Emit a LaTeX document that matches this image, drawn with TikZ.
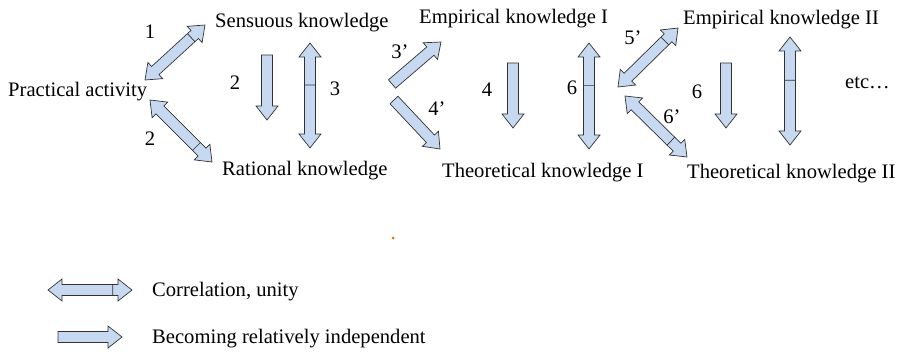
\documentclass[tikz,border=0pt]{standalone}
\usepackage{fontspec}
\setmainfont{Liberation Serif}
\usetikzlibrary{calc}

\definecolor{arrowfill}{RGB}{198,217,241}
\definecolor{arrowline}{RGB}{50,50,50}
\definecolor{dotorange}{RGB}{228,108,10}

% block arrow from #1 to #2
\newcommand{\onearrow}[2]{%
  \draw[blk] let \p1=($(#2)-(#1)$), \n1={atan2(\y1,\x1)}, \n2={veclen(\x1,\y1)} in
    {[shift={(#1)}, rotate=\n1]
     (0,5.5) -- (\n2-14,5.5) -- (\n2-14,11) -- (\n2,0) -- (\n2-14,-11) -- (\n2-14,-5.5) -- (0,-5.5) -- cycle};}
% double block arrow from #1 to #2, bar at fraction #3
\newcommand{\twoarrow}[3]{%
  \draw[blk] let \p1=($(#2)-(#1)$), \n1={atan2(\y1,\x1)}, \n2={veclen(\x1,\y1)} in
    {[shift={(#1)}, rotate=\n1]
     (0,0) -- (14,11) -- (14,5.5) -- (\n2-14,5.5) -- (\n2-14,11) -- (\n2,0) -- (\n2-14,-11) -- (\n2-14,-5.5) -- (14,-5.5) -- (14,-11) -- cycle
     (#3*\n2,5.5) -- (#3*\n2,-5.5)};}

\begin{document}
\begin{tikzpicture}[x=1pt, y=-1pt,
  txt/.style={inner sep=0, anchor=base west, font=\fontsize{20.6}{24}\selectfont},
  num/.style={inner sep=0, font=\fontsize{20.6}{24}\selectfont},
  blk/.style={draw=arrowline, fill=arrowfill, line width=0.7pt, line join=miter}]
\useasboundingbox (0,0) rectangle (897,358);

\node[txt] (pract) at (8,97) {Practical activity};
\node[txt] (sens) at (215,28) {Sensuous knowledge};
\node[txt] (rat) at (222,176) {Rational knowledge};
\node[txt] (emp1) at (419,24) {Empirical knowledge I};
\node[txt] (theo1) at (442,178) {Theoretical knowledge I};
\node[txt] (emp2) at (683,25) {Empirical knowledge II};
\node[txt] (theo2) at (687,179) {Theoretical knowledge II};
\node[txt] (etc) at (845,89) {etc…};

% arrow ends
\coordinate (a1s) at (145,80);  \coordinate (a1e) at (205,25);
\coordinate (a2s) at (150,100); \coordinate (a2e) at (212,162);
\coordinate (d2s) at (267,55);  \coordinate (d2e) at (267,120);
\coordinate (v3s) at (310,43);  \coordinate (v3e) at (310,148);
\coordinate (a3s) at (392,84);  \coordinate (a3e) at (441,42);
\coordinate (a4s) at (394,100); \coordinate (a4e) at (440,149);
\coordinate (d4s) at (513,63);  \coordinate (d4e) at (513,128);
\coordinate (v6s) at (589,43);  \coordinate (v6e) at (589,149);
\coordinate (a5s) at (618,87);  \coordinate (a5e) at (678,28);
\coordinate (a6s) at (625,96);  \coordinate (a6e) at (687,157);
\coordinate (d6s) at (726,63);  \coordinate (d6e) at (726,128);
\coordinate (v7s) at (790,37);  \coordinate (v7e) at (790,145);

\twoarrow{a1s}{a1e}{0.77}
\twoarrow{a2s}{a2e}{0.75}
\onearrow{d2s}{d2e}
\twoarrow{v3s}{v3e}{0.40}
\onearrow{a3s}{a3e}
\onearrow{a4s}{a4e}
\onearrow{d4s}{d4e}
\twoarrow{v6s}{v6e}{0.40}
\twoarrow{a5s}{a5e}{0.78}
\twoarrow{a6s}{a6e}{0.74}
\onearrow{d6s}{d6e}
\twoarrow{v7s}{v7e}{0.40}

\node[num] (n1) at (150,32) {1};
\node[num] (n2a) at (150,139) {2};
\node[num] (n2b) at (235,83) {2};
\node[num] (n3) at (335,89) {3};
\node[num] (n3p) at (400,52) {3’};
\node[num] (n4p) at (437,109) {4’};
\node[num] (n4) at (487,90) {4};
\node[num] (n6a) at (572,88) {6};
\node[num] (n5p) at (633,38) {5’};
\node[num] (n6p) at (672,117) {6’};
\node[num] (n6b) at (697,92) {6};

\fill[dotorange] (393,238) circle (1.5);

% legend
\coordinate (l1s) at (48,290);  \coordinate (l1e) at (132,290);
\coordinate (l2s) at (58,337);  \coordinate (l2e) at (122,337);
\twoarrow{l1s}{l1e}{0.77}
\onearrow{l2s}{l2e}
\node[txt] (leg1) at (152,296) {Correlation, unity};
\node[txt] (leg2) at (152,343) {Becoming relatively independent};
\end{tikzpicture}
\end{document}
